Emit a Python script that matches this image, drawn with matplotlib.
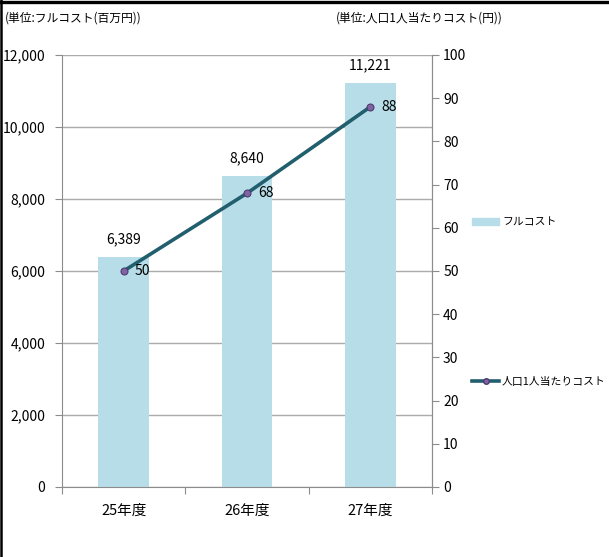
import matplotlib
matplotlib.use("Agg")
import matplotlib.pyplot as plt
import matplotlib.patches as mpatches
from matplotlib.lines import Line2D
import numpy as np

plt.rcParams['font.family'] = ['Noto Sans CJK JP', 'DejaVu Sans']

# Data
years = ['25年度', '26年度', '27年度']
full_cost = [6389, 8640, 11221]          # 百万円
cost_per_person = [50, 68, 88]           # 円
left_ticks = [0, 2000, 4000, 6000, 8000, 10000, 12000]
right_ticks = [0, 10, 20, 30, 40, 50, 60, 70, 80, 90, 100]

bar_color = '#B7DEE8'
line_color = '#215E6E'
marker_color = '#8064A2'
axis_color = '#8C8C8C'

W, H = 609, 557
fig = plt.figure(figsize=(W / 100, H / 100), dpi=100)
ax = fig.add_axes([62 / W, 1 - 487 / H, (432 - 62) / W, (487 - 55) / H])

x = np.arange(len(years))
ax.bar(x, full_cost, width=0.41, color=bar_color, zorder=2)
for xi, v in zip(x, full_cost):
    ax.text(xi, v + 290, f'{v:,}', ha='center', va='bottom', fontsize=10)

ax.set_xlim(-0.5, 2.5)
ax.set_ylim(0, 12000)
ax.set_yticks(left_ticks)
ax.set_yticklabels([f'{t:,}' for t in left_ticks])
ax.yaxis.grid(True, color='#ABABAB', linewidth=1.0)
ax.set_axisbelow(True)

# category boundaries as ticks, labels in the middle
ax.set_xticks([-0.5, 0.5, 1.5, 2.5])
ax.set_xticklabels([])
ax.set_xticks(x, minor=True)
ax.set_xticklabels(years, minor=True)
ax.tick_params(axis='x', which='major', length=5, color=axis_color, direction='out')
ax.tick_params(axis='x', which='minor', length=0, pad=12, labelsize=10.5)
ax.tick_params(axis='y', length=5, color=axis_color, labelsize=10, pad=7)

ax.spines['top'].set_visible(False)
for s in ['left', 'bottom', 'right']:
    ax.spines[s].set_color(axis_color)

ax2 = ax.twinx()
ax2.plot(x, cost_per_person, color=line_color, linewidth=2.6, marker='o',
         markersize=5, markerfacecolor=marker_color, markeredgecolor='#4F3A73',
         markeredgewidth=0.8, zorder=3)
for xi, v in zip(x, cost_per_person):
    ax2.text(xi + 0.09, v, str(v), ha='left', va='center', fontsize=10)
ax2.set_ylim(0, 100)
ax2.set_yticks(right_ticks)
ax2.tick_params(axis='y', length=5, color=axis_color, labelsize=10, pad=3)
for s in ['top', 'left', 'bottom']:
    ax2.spines[s].set_visible(False)
ax2.spines['right'].set_color(axis_color)

# unit captions
fig.text(5 / W, 1 - 18 / H, '(単位:フルコスト(百万円))', ha='left', va='center', fontsize=8.5)
fig.text(336 / W, 1 - 18 / H, '(単位:人口1人当たりコスト(円))', ha='left', va='center', fontsize=8.5)

# legend
handles = [mpatches.Patch(color=bar_color, label='フルコスト'),
           Line2D([], [], color=line_color, linewidth=2.6, marker='o', markersize=4,
                  markerfacecolor=marker_color, markeredgecolor='#4F3A73',
                  label='人口1人当たりコスト')]
fig.legend(handles=handles, loc='upper left', bbox_to_anchor=(468 / W, 1 - 213 / H),
           frameon=False, fontsize=7.8, labelspacing=13.8, handlelength=2.5,
           handleheight=0.7, handletextpad=0.25, borderaxespad=0)

# frame lines on the top and left edges
fig.add_artist(Line2D([0, 1], [1 - 1.5 / H, 1 - 1.5 / H], color='black', linewidth=2.4,
                      transform=fig.transFigure))
fig.add_artist(Line2D([1 / W, 1 / W], [0, 1], color='black', linewidth=1.8,
                      transform=fig.transFigure))

fig.savefig('out.png', dpi=100)
